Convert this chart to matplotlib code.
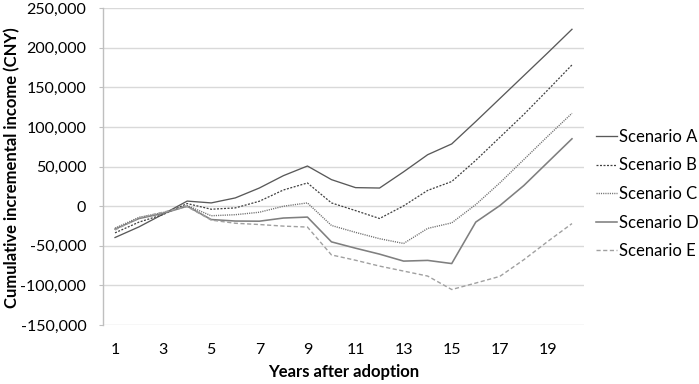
import matplotlib
matplotlib.use("Agg")
import matplotlib.pyplot as plt
from matplotlib.ticker import FuncFormatter

plt.rcParams['font.family'] = ['Lato', 'DejaVu Sans']

years = list(range(1, 21))
scenario_a = [-39500, -26000, -10000, 6500, 4200, 10500, 23000, 38600, 50800, 33600, 23500, 23000, 43500, 65100, 78700, 107000, 136000, 165000, 194000, 223500]
scenario_b = [-33600, -20000, -10500, 3400, -3800, -2100, 6300, 20500, 29400, 4200, -5500, -15500, 500, 20000, 31200, 58000, 87000, 116000, 147000, 178500]
scenario_c = [-27700, -14000, -8000, 800, -12000, -10700, -7600, 0, 4200, -24300, -33000, -41000, -47000, -28000, -21000, 2100, 29500, 59000, 88600, 117400]
scenario_d = [-28800, -15500, -9000, 0, -16800, -18700, -18900, -14900, -13700, -45000, -53000, -60500, -69300, -68400, -72400, -20000, 800, 26200, 55700, 85200]
scenario_e = [-30000, -14500, -7500, -500, -17500, -21500, -23100, -25100, -26300, -61500, -68200, -75600, -81900, -88200, -105200, -97000, -88600, -67500, -44300, -21900]
labels = ["Scenario A", "Scenario B", "Scenario C", "Scenario D", "Scenario E"]
y_ticks = list(range(-150000, 250001, 50000))
x_ticks = list(range(1, 20, 2))

fig = plt.figure(figsize=(6.99, 3.84), dpi=100)
ax = fig.add_axes([103/699, 1-325/384, (584-103)/699, (325-8.3)/384])

styles = [
    dict(color='#595959', lw=0.95, ls='-'),
    dict(color='#404040', lw=0.9, ls=(0, (1.6, 1.2))),
    dict(color='#6e6e6e', lw=1.0, ls=(0, (0.8, 0.8))),
    dict(color='#7f7f7f', lw=1.15, ls='-'),
    dict(color='#a0a0a0', lw=1.0, ls=(0, (3, 1.8))),
]
for data, lab, st in zip([scenario_a, scenario_b, scenario_c, scenario_d, scenario_e], labels, styles):
    ax.plot(years, data, label=lab, **st)

ax.set_xlim(0.5, 20.5)
ax.set_ylim(-150000, 250000)
ax.set_yticks(y_ticks)
ax.set_xticks(x_ticks)
ax.yaxis.set_major_formatter(FuncFormatter(lambda v, p: f"{int(v):,}"))
ax.grid(axis='y', color='#d9d9d9', lw=1.0)
ax.set_axisbelow(True)
for s in ['top', 'right', 'bottom']:
    ax.spines[s].set_visible(False)
ax.spines['left'].set_color('#bfbfbf')
ax.spines['left'].set_linewidth(1.0)
ax.tick_params(axis='y', length=3, color='#bfbfbf', pad=9, labelsize=11.5, labelcolor='black')
ax.tick_params(axis='x', length=0, pad=13, labelsize=11.5, labelcolor='black')

ax.set_xlabel("Years after adoption", fontsize=12, fontweight='bold', labelpad=5)
fig.text(12/699, 1-168/384, "Cumulative incremental income (CNY)", fontsize=12,
         fontweight='bold', rotation=90, ha='center', va='center')

leg = fig.legend(*ax.get_legend_handles_labels(), loc='center left',
                 bbox_to_anchor=(596/699, 1-194/384), frameon=False,
                 fontsize=12, handlelength=1.25, handletextpad=0.12, labelspacing=0.75,
                 borderaxespad=0, borderpad=0)

fig.savefig("out.png", dpi=100)
